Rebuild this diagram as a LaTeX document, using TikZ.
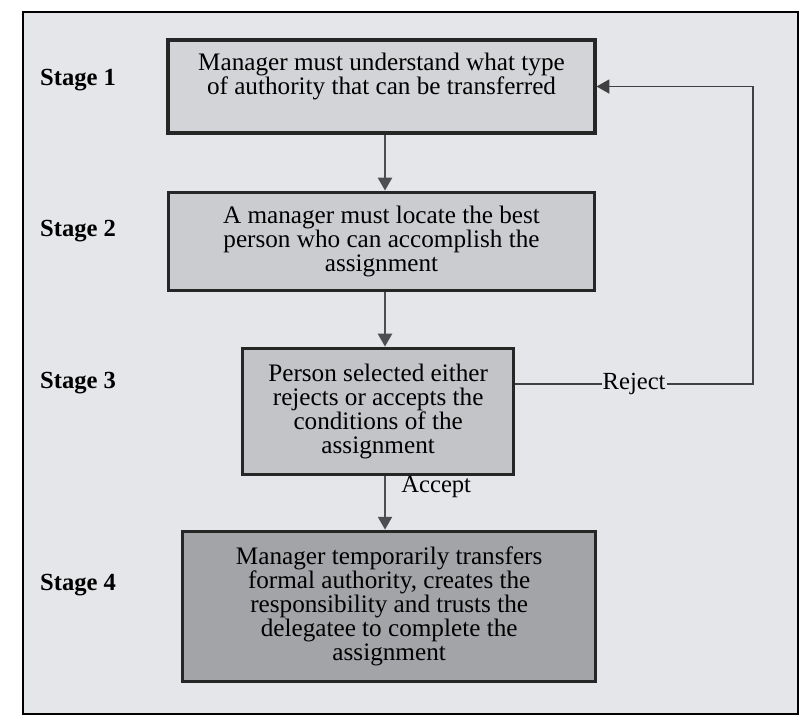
\documentclass[tikz,border=0pt]{standalone}
\usepackage{fontspec}
\setmainfont{Liberation Serif}
\usepackage{xcolor}
\usepackage{tikz}
\usetikzlibrary{arrows.meta,positioning}

\definecolor{paper}{HTML}{E4E6EA}
\definecolor{fillone}{HTML}{D3D4D7}
\definecolor{filltwo}{HTML}{CBCCD0}
\definecolor{fillthree}{HTML}{C3C4C8}
\definecolor{fillfour}{HTML}{A3A4A7}
\definecolor{linegray}{HTML}{4E4E50}

\begin{document}
\begin{tikzpicture}[
    x=0.03cm, y=-0.03cm,
    box/.style={rectangle, draw=black!85, line width=2.6pt, align=center, inner sep=2pt,
                font=\fontsize{21.5}{20.5}\selectfont},
    stage/.style={anchor=west, font=\fontsize{21}{21}\selectfont\bfseries},
    arrow/.style={-{Triangle[width=12pt,length=11pt]}, line width=1.8pt, draw=linegray},
    lbl/.style={font=\fontsize{21}{21}\selectfont, inner sep=1pt}
]
\useasboundingbox (0,0) rectangle (807,717);
\fill[white] (0,0) rectangle (807,717);
\draw[line width=1.8pt, fill=paper] (23,12) rectangle (798,714);

\node[box, fill=fillone, minimum width=12.81cm, minimum height=2.79cm] (b1) at (381.5,86.5)
    {Manager must understand what type\\of authority that can be transferred\\[2pt]};
\node[box, fill=filltwo, minimum width=12.78cm, minimum height=2.94cm, below=1.68cm of b1] (b2)
    {A manager must locate the best\\person who can accomplish the\\assignment};
\node[box, fill=fillthree, minimum width=8.13cm, minimum height=3.78cm, below=1.65cm of b2, xshift=-0.1cm] (b3)
    {Person selected either\\rejects or accepts the\\conditions of the\\assignment};
\node[box, fill=fillfour, minimum width=12.39cm, minimum height=4.5cm, below=1.62cm of b3, xshift=0.33cm] (b4)
    {Manager temporarily transfers\\formal authority, creates the\\responsibility and trusts the\\delegatee to complete the\\assignment};

\node[stage] (s1) at (36,80) {Stage 1};
\node[stage] (s2) at (36,231) {Stage 2};
\node[stage] (s3) at (36,383) {Stage 3};
\node[stage] (s4) at (36,585) {Stage 4};

\coordinate (axis) at (385,0);
\coordinate (back) at (753,384);

\draw[arrow] (b1.south -| axis) -- (b2.north -| axis);
\draw[arrow] (b2.south -| axis) -- (b3.north -| axis);
\draw[arrow] (b3.south -| axis) -- (b4.north -| axis);
\node[lbl, anchor=west] (acc) at (400,487) {Accept};

\draw[arrow, line width=1.4pt, draw=black!75] (b3.east |- back)
    -- node[lbl, fill=paper] (rej) {Reject} (back) |- (b1.east);
\end{tikzpicture}
\end{document}
